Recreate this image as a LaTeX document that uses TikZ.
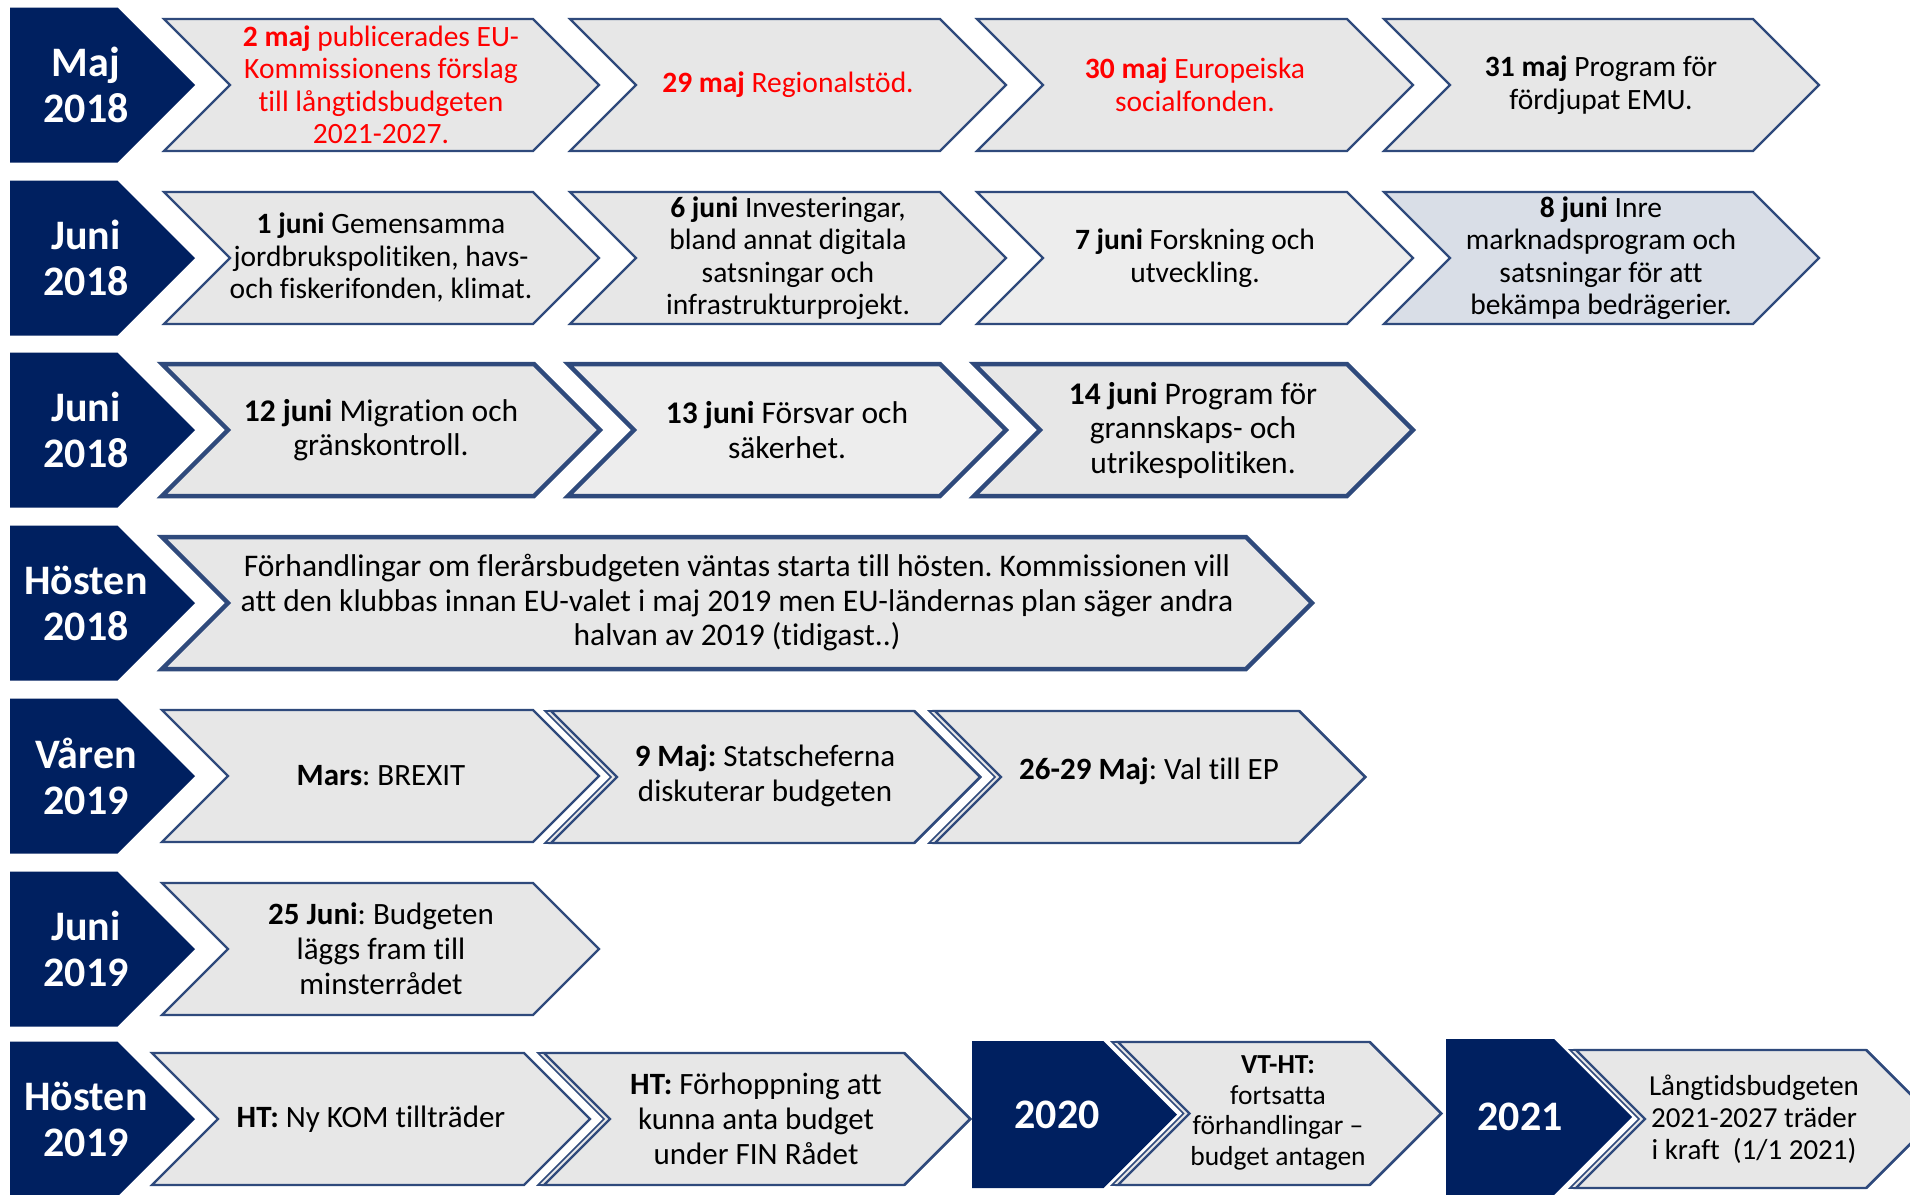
\documentclass[tikz,border=0pt]{standalone}
\usepackage{fontspec}
\setmainfont{Carlito}[Ligatures=NoCommon]
\frenchspacing
\definecolor{navy}{HTML}{002060}
\definecolor{edge}{HTML}{2F4A7C}
\definecolor{chevgray}{HTML}{E7E7E7}
\definecolor{chevlight}{HTML}{EDEDED}
\definecolor{chevblue}{HTML}{D9DEE7}
\definecolor{redtxt}{HTML}{FF0000}
\tikzset{
  lightchev/.style={fill=chevgray, draw=edge, line width=2.2pt, line join=miter},
  thickchev/.style={lightchev, line width=4.5pt},
  ghost/.style={lightchev, line width=1.6pt, xshift=-6pt},
  darkchev/.style={fill=navy},
  datelbl/.style={text=white, font=\fontsize{42}{46}\selectfont\bfseries, align=center, inner sep=0pt},
  evtxt/.style={text=black, align=center, inner sep=0pt, font=\fontsize{29.5}{32.5}\selectfont},
  evwide/.style={evtxt, font=\fontsize{31}{35}\selectfont},
  evbig/.style={evtxt, font=\fontsize{31.5}{34.5}\selectfont},
  redev/.style={evtxt, text=redtxt},
}
% light chevron: [style] L R top bottom
\newcommand\lchev[5][]{\path[lightchev,#1] (#2,#4) -- ({#3-(#5-#4)/2},#4) -- (#3,{(#4+#5)/2}) -- ({#3-(#5-#4)/2},#5) -- (#2,#5) -- ({#2+(#5-#4)/2},{(#4+#5)/2}) -- cycle;}
% dark pentagon: L R top bottom
\newcommand\dchev[4]{\path[darkchev] (#1,#3) -- ({#2-(#4-#3)/2},#3) -- (#2,{(#3+#4)/2}) -- ({#2-(#4-#3)/2},#4) -- (#1,#4) -- cycle;}
\begin{document}
\begin{tikzpicture}[x=1pt,y=-1pt]
\useasboundingbox (0,0) rectangle (1910,1194);
\clip (0,0) rectangle (1910,1194);
\fill[white] (0,0) rectangle (1910,1194);

% ---------- Row 1 ----------
\dchev{10}{195}{7.5}{162.5}
\node[datelbl] (d1) at (86,85) {Maj\\2018};
\lchev{164}{599}{19}{151}
\lchev{570}{1006}{19}{151}
\lchev{977}{1413}{19}{151}
\lchev{1384}{1819}{19}{151}
\node[redev] (e11) at (381,85) {\textbf{2 maj} publicerades EU-\\Kommissionens förslag\\till långtidsbudgeten\\2021-2027.};
\node[redev] (e12) at (788,85) {\textbf{29 maj} Regionalstöd.};
\node[redev] (e13) at (1195,85) {\textbf{30 maj} Europeiska\\socialfonden.};
\node[evtxt] (e14) at (1601,85) {\textbf{31 maj} Program för\\fördjupat EMU.};

% ---------- Row 2 ----------
\dchev{10}{195}{180.5}{335.5}
\node[datelbl] (d2) at (86,258) {Juni\\2018};
\lchev{164}{599}{192}{324}
\lchev{570}{1006}{192}{324}
\lchev[fill=chevlight]{977}{1413}{192}{324}
\lchev[fill=chevblue]{1384}{1819}{192}{324}
\node[evtxt] (e21) at (381,258) {\textbf{1 juni} Gemensamma\\jordbrukspolitiken, havs-\\och fiskerifonden, klimat.};
\node[evtxt] (e22) at (788,258) {\textbf{6 juni} Investeringar,\\bland annat digitala\\satsningar och\\infrastrukturprojekt.};
\node[evtxt] (e23) at (1195,258) {\textbf{7 juni} Forskning och\\utveckling.};
\node[evtxt] (e24) at (1601,258) {\textbf{8 juni} Inre\\marknadsprogram och\\satsningar för att\\bekämpa bedrägerier.};

% ---------- Row 3 ----------
\dchev{10}{195}{352.5}{507.5}
\node[datelbl] (d3) at (86,430) {Juni\\2018};
\lchev[thickchev]{162}{600}{364}{496}
\lchev[thickchev,fill=chevlight]{568}{1006}{364}{496}
\lchev[thickchev]{974}{1413}{364}{496}
\node[evbig] (e31) at (381,430) {\textbf{12 juni} Migration och\\gränskontroll.};
\node[evbig] (e32) at (787,430) {\textbf{13 juni} Försvar och\\säkerhet.};
\node[evbig] (e33) at (1193,430) {\textbf{14 juni} Program för\\grannskaps- och\\utrikespolitiken.};

% ---------- Row 4 ----------
\dchev{10}{195}{525.5}{680.5}
\node[datelbl] (d4) at (86,603) {Hösten\\2018};
\lchev[thickchev]{162}{1312}{537}{669}
\node[evbig] (e41) at (737,603) {Förhandlingar om flerårsbudgeten väntas starta till hösten. Kommissionen vill\\att den klubbas innan EU-valet i maj 2019 men EU-ländernas plan säger andra\\halvan av 2019 (tidigast..)};

% ---------- Row 5 ----------
\dchev{10}{195}{698.5}{853.5}
\node[datelbl] (d5) at (86,776) {Våren\\2019};
\lchev{162}{599}{710}{842}
\lchev[ghost]{551}{987}{711}{843}
\lchev{551}{980}{711}{843}
\lchev[ghost]{935}{1372}{711}{843}
\lchev{935}{1365}{711}{843}
\node[evwide] (e51) at (381,776) {\textbf{Mars}: BREXIT};
\node[evwide] (e52) at (765,776) {\textbf{9 Maj:} Statscheferna\\diskuterar budgeten};
\node[evwide] (e53) at (1149,771) {\textbf{26-29 Maj}: Val till EP};

% ---------- Row 6 ----------
\dchev{10}{195}{871.5}{1026.5}
\node[datelbl] (d6) at (86,949) {Juni\\2019};
\lchev{162}{599}{883}{1015}
\node[evwide] (e61) at (381,949) {\textbf{25 Juni}: Budgeten\\läggs fram till\\minsterrådet};

% ---------- Row 7 ----------
\dchev{10}{195}{1041.5}{1196.5}
\node[datelbl] (d7) at (86,1119) {Hösten\\2019};
\lchev{152}{590}{1053}{1185}
\lchev[ghost]{544}{977}{1053}{1185}
\lchev{544}{970}{1053}{1185}
\node[evwide] (e71) at (371,1119) {\textbf{HT:} Ny KOM tillträder};
\node[evwide] (e72) at (756,1119) {\textbf{HT:} Förhoppning att\\kunna anta budget\\under FIN Rådet};

\dchev{972}{1177}{1041}{1188}
\node[datelbl] (d8) at (1057,1115) {2020};
\lchev[ghost]{1118}{1448}{1042}{1185}
\lchev{1118}{1441}{1042}{1185}
\node[evtxt, font=\fontsize{27.5}{30.5}\selectfont] (e81) at (1278,1113) {\textbf{VT-HT:}\\fortsatta\\förhandlingar –\\budget antagen};

\dchev{1446}{1632}{1039}{1195}
\node[datelbl] (d9) at (1520,1117) {2021};
\lchev[ghost]{1576}{1942}{1050}{1188}
\lchev{1576}{1935}{1050}{1188}
\node[evtxt, font=\fontsize{29}{32}\selectfont] (e91) at (1754,1119) {Långtidsbudgeten\\2021-2027 träder\\i kraft\ \ (1/1 2021)};
\end{tikzpicture}
\end{document}
